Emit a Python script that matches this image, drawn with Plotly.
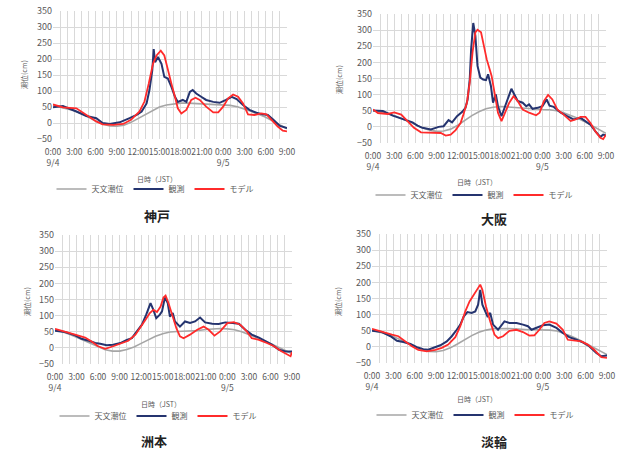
import plotly.graph_objects as go

W, H = 622, 450
FONT = "Noto Sans CJK JP"

# ---------------- data ----------------
hours = list(range(34))
tick_hours = list(range(0, 34, 3))
tick_labels = ["0:00<br>9/4", "3:00", "6:00", "9:00", "12:00", "15:00", "18:00",
               "21:00", "0:00<br>9/5", "3:00", "6:00", "9:00"]
series_names = ["天文潮位", "観測", "モデル"]
stations = ["神戸", "大阪", "洲本", "淡輪"]

# astronomical tide (hourly)
kobe_astro = [55, 50, 45, 38, 30, 18, 6, -3, -9, -10, -7, 2, 14, 27, 40, 50, 56, 60, 62, 62,
              61, 60, 58, 57, 56, 55, 51, 44, 36, 27, 18, 6, -6, -18]
osaka_astro = [50, 47, 42, 35, 27, 17, 7, -3, -10, -14, -13, -7, 5, 20, 35, 47, 56, 61, 63, 62,
               60, 58, 56, 55, 54, 53, 50, 44, 36, 27, 16, 4, -9, -20]
sumoto_astro = [57, 50, 42, 33, 23, 12, 2, -6, -10, -10, -5, 3, 14, 26, 36, 44, 49, 51, 52, 52,
                54, 57, 59, 60, 59, 56, 50, 42, 33, 24, 14, 3, -8, -18]
tannowa_astro = [52, 47, 40, 32, 22, 11, 0, -9, -14, -15, -11, -3, 9, 22, 35, 45, 52, 56, 57, 57,
                 56, 54, 53, 53, 53, 52, 49, 42, 33, 23, 11, -1, -13, -24]

# observed
kobe_obs_t = [0, 1.4, 3.3, 4.7, 6.1, 7, 8, 9.4, 10.8, 11.8, 12.5, 13.2, 13.6, 14, 14.2, 14.4, 14.8,
              15.3, 15.7, 16.2, 16.7, 17.2, 17.6, 18.3, 18.8, 19.3, 19.7, 20.2, 20.9, 21.6, 22.6,
              23.5, 24.4, 25.2, 25.9, 26.8, 27.7, 28.7, 29.6, 30.3, 31, 32, 33]
kobe_obs = [49, 53, 36, 22, 15, 0, -3, 2, 15, 25, 36, 61, 103, 164, 231, 190, 206, 185, 144, 139,
            113, 82, 66, 72, 66, 97, 103, 92, 82, 72, 66, 63, 72, 82, 75, 56, 41, 32, 27, 25, 12, -9, -16]
osaka_obs_t = [0, 1.4, 2.8, 4, 4.9, 5.6, 6.3, 7, 8.2, 9.3, 10, 10.7, 11.2, 11.9, 12.6, 13.1, 13.4,
               13.7, 13.9, 14.2, 14.5, 14.8, 15.2, 15.6, 16, 16.3, 16.7, 17, 17.4, 17.7, 18.2, 18.6,
               19.1, 19.6, 20, 20.5, 21.2, 21.7, 22.1, 22.6, 23.3, 24, 24.6, 25, 25.6, 26.6, 27.5,
               28.4, 29.4, 30.1, 30.8, 31.5, 32.2, 32.6, 33]
osaka_obs = [51, 49, 35, 26, 18, 14, 4, -3, -8, 0, 2, 21, 14, 33, 46, 59, 85, 147, 241, 322, 282,
             189, 153, 147, 145, 163, 127, 75, 101, 64, 33, 59, 85, 118, 101, 80, 75, 64, 70, 56, 59,
             64, 85, 66, 62, 44, 33, 23, 28, 18, 7, -14, -31, -24, -27]
sumoto_obs_t = [0, 1.4, 2.8, 3.7, 4.7, 5.6, 6.3, 7.2, 8.1, 9.1, 10, 10.7, 11.4, 12.1, 12.7, 13.3,
                13.7, 14.1, 14.6, 14.9, 15.3, 15.7, 16, 16.4, 16.7, 17.4, 18.1, 18.8, 19.5, 20.2,
                20.9, 21.9, 22.8, 23.7, 24.7, 25.6, 26.5, 27.4, 28.4, 29.3, 30.2, 31.2, 32.1, 33]
sumoto_obs = [53, 49, 39, 28, 22, 15, 13, 8, 10, 15, 25, 30, 51, 72, 103, 139, 118, 92, 103, 113,
              156, 139, 97, 108, 82, 66, 82, 77, 82, 94, 79, 75, 74, 79, 77, 75, 56, 41, 32, 20, 10,
              -6, -11, -11]
tannowa_obs_t = [0, 1.4, 2.6, 3.5, 4.4, 5.4, 6.3, 7.2, 7.9, 8.6, 9.6, 10.5, 11.2, 11.9, 12.4, 12.9,
                 13.4, 14, 14.5, 14.9, 15.2, 15.5, 15.9, 16.2, 16.6, 17, 17.7, 18.2, 18.6, 19.3,
                 20.3, 21.2, 21.9, 22.4, 23.1, 24, 24.9, 25.9, 26.8, 27.7, 28.7, 29.6, 30.5, 31.5,
                 32.2, 33]
tannowa_obs = [50, 46, 33, 19, 15, 9, -1, -7, -9, -3, 5, 17, 33, 53, 69, 95, 108, 105, 110, 131,
               177, 131, 110, 95, 105, 69, 53, 69, 79, 74, 74, 69, 64, 53, 59, 67, 69, 59, 43, 30,
               22, 14, 2, -19, -29, -27]

# model
kobe_mod_t = [0, 1.4, 3.3, 4.7, 6.1, 7, 8.5, 9.9, 11, 12.2, 12.9, 13.5, 14.1, 14.6, 15.2, 15.7,
              16.2, 16.7, 17.2, 17.6, 18.1, 18.8, 19.5, 20.1, 20.7, 21.6, 22.6, 23.3, 24, 24.7,
              25.4, 26.1, 26.8, 27.5, 28.4, 29.4, 30.1, 30.8, 31.7, 32.4, 33]
kobe_mod = [58, 49, 46, 25, 5, -4, -6, -3, 10, 36, 67, 123, 185, 211, 226, 211, 164, 123, 82, 46,
            30, 41, 72, 79, 72, 51, 33, 33, 51, 77, 89, 82, 61, 27, 25, 30, 27, 10, -11, -24, -26]
osaka_mod_t = [0, 0.7, 2.1, 3, 4, 4.9, 5.8, 6.8, 8.2, 9.6, 10.3, 11, 11.7, 12.4, 12.8, 13.3, 13.7,
               14.1, 14.5, 14.8, 15.3, 15.6, 16.1, 16.8, 17.2, 17.7, 18.2, 18.6, 19.3, 19.9, 20.5,
               21.2, 22.1, 23.1, 23.6, 24.2, 24.8, 25.4, 26.1, 27, 28, 28.7, 29.4, 30.1, 30.8, 31.5,
               32.2, 32.6, 33]
osaka_mod = [54, 43, 40, 45, 38, 18, -3, -17, -19, -19, -27, -24, -10, 12, 38, 75, 137, 231, 293,
             301, 293, 262, 210, 158, 106, 44, 18, 38, 75, 95, 80, 54, 44, 36, 44, 80, 99, 85, 54,
             38, 18, 23, 31, 31, 12, -14, -34, -38, -24]
sumoto_mod_t = [0, 1.4, 2.8, 4.2, 5.1, 6, 7, 8.1, 9.3, 10.2, 11.2, 11.9, 12.6, 13.2, 13.7, 14.2,
                14.7, 15.1, 15.4, 15.8, 16.3, 16.9, 17.4, 17.9, 18.8, 19.8, 20.7, 21.4, 22.2, 23, 24,
                24.9, 25.8, 26.7, 27.4, 28.4, 29.5, 30.5, 31.4, 32.3, 32.8, 33]
sumoto_mod = [59, 49, 41, 32, 20, 5, -3, 5, 15, 22, 41, 66, 87, 108, 118, 111, 128, 156, 162, 139,
              103, 61, 36, 30, 41, 56, 66, 56, 38, 51, 77, 80, 72, 51, 30, 25, 15, 5, -9, -21, -26, -13]
tannowa_mod_t = [0, 1.4, 2.8, 3.7, 4.7, 5.6, 6.5, 7.7, 8.9, 9.8, 10.7, 11.7, 12.4, 13.1, 13.7,
                 14.3, 14.8, 15.2, 15.5, 16, 16.6, 17.2, 17.7, 18.4, 19.3, 20.3, 21.2, 22.1, 22.8,
                 23.5, 24.2, 24.9, 25.9, 26.8, 27.5, 28.4, 29.4, 30.3, 31.2, 32.2, 33]
tannowa_mod = [56, 46, 38, 33, 17, 2, -9, -14, -9, -3, 7, 30, 64, 110, 141, 162, 183, 193, 177,
               126, 79, 38, 27, 33, 50, 53, 46, 35, 36, 53, 74, 79, 72, 53, 22, 19, 17, 7, -9, -32, -34]

astro_all = [kobe_astro, osaka_astro, sumoto_astro, tannowa_astro]
obs_all = [(kobe_obs_t, kobe_obs), (osaka_obs_t, osaka_obs), (sumoto_obs_t, sumoto_obs),
           (tannowa_obs_t, tannowa_obs)]
mod_all = [(kobe_mod_t, kobe_mod), (osaka_mod_t, osaka_mod), (sumoto_mod_t, sumoto_mod),
           (tannowa_mod_t, tannowa_mod)]

# ---------------- layout geometry (pixels) ----------------
# plot area boxes: left, right, top, bottom
boxes = [(53, 287, 11, 139), (373, 606, 14, 143), (55, 292, 235, 364), (372, 607, 234, 363)]
legend_pos = [(155, 189), (474, 195), (158, 416), (475, 415)]
xtitle_pos = [(157, 179), (477, 182), (161, 404), (477, 399)]
ytitle_pos = [(24, 75), (339, 80), (27, 302), (338, 302)]
title_pos = [(157, 215), (494, 218), (154, 440), (494, 441)]

COL_ASTRO = "#a6a6a6"
COL_OBS = "#25346f"
COL_MOD = "#ff2b2b"
TXT = "#595959"

fig = go.Figure()
layout = dict(
    width=W, height=H,
    margin=dict(l=0, r=0, t=0, b=0, autoexpand=False),
    paper_bgcolor="white", plot_bgcolor="white",
    font=dict(family=FONT, color=TXT, size=9),
    annotations=[],
)

ticktext_full = []
for h in hours:
    if h in tick_hours:
        ticktext_full.append(tick_labels[tick_hours.index(h)])
    else:
        ticktext_full.append("")

for i in range(4):
    sfx = "" if i == 0 else str(i + 1)
    l, r, t, b = boxes[i]
    xa = "x" + sfx
    ya = "y" + sfx
    lg = "legend" + sfx
    ot, ov = obs_all[i]
    mt, mv = mod_all[i]
    fig.add_trace(go.Scatter(x=hours, y=astro_all[i], mode="lines", name=series_names[0],
                             line=dict(color=COL_ASTRO, width=1.6), xaxis=xa, yaxis=ya, legend=lg))
    fig.add_trace(go.Scatter(x=ot, y=ov, mode="lines", name=series_names[1],
                             line=dict(color=COL_OBS, width=2), xaxis=xa, yaxis=ya, legend=lg))
    fig.add_trace(go.Scatter(x=mt, y=mv, mode="lines", name=series_names[2],
                             line=dict(color=COL_MOD, width=1.8), xaxis=xa, yaxis=ya, legend=lg))

    layout["xaxis" + sfx] = dict(
        domain=[l / W, r / W], anchor=ya, range=[0, 33],
        tickmode="array", tickvals=hours, ticktext=ticktext_full, tickangle=0,
        showgrid=True, gridcolor="#d9d9d9", gridwidth=1, zeroline=False,
        showline=False, ticks="", tickfont=dict(size=8.5, color=TXT),
        ticklabelstandoff=6,
    )
    layout["yaxis" + sfx] = dict(
        domain=[1 - b / H, 1 - t / H], anchor=xa, range=[-50, 350],
        tickmode="linear", tick0=-50, dtick=50,
        showgrid=True, gridcolor="#d9d9d9", gridwidth=1, zeroline=False,
        showline=False, ticks="", tickfont=dict(size=9, color=TXT),
    )
    lx, ly = legend_pos[i]
    layout[lg] = dict(
        x=lx / W, y=1 - ly / H, xanchor="center", yanchor="middle",
        orientation="h", font=dict(size=8, color=TXT), bgcolor="rgba(0,0,0,0)",
        itemwidth=30, tracegroupgap=0,
    )
    tx, ty = xtitle_pos[i]
    layout["annotations"].append(dict(
        text="日時（JST）", x=tx / W, y=1 - ty / H, xref="paper", yref="paper",
        showarrow=False, font=dict(size=7, color=TXT), xanchor="center", yanchor="middle"))
    yx, yy = ytitle_pos[i]
    layout["annotations"].append(dict(
        text="潮位(cm)", x=yx / W, y=1 - yy / H, xref="paper", yref="paper", textangle=-90,
        showarrow=False, font=dict(size=7, color=TXT), xanchor="center", yanchor="middle"))
    sx, sy = title_pos[i]
    layout["annotations"].append(dict(
        text="<b>" + stations[i] + "</b>", x=sx / W, y=1 - sy / H, xref="paper", yref="paper",
        showarrow=False, font=dict(size=13, color="#222222"), xanchor="center", yanchor="middle"))

fig.update_layout(**layout)
fig.write_html("out.html", config={"displayModeBar": False},
               post_script="document.body.style.margin='0';document.body.style.padding='0';")
